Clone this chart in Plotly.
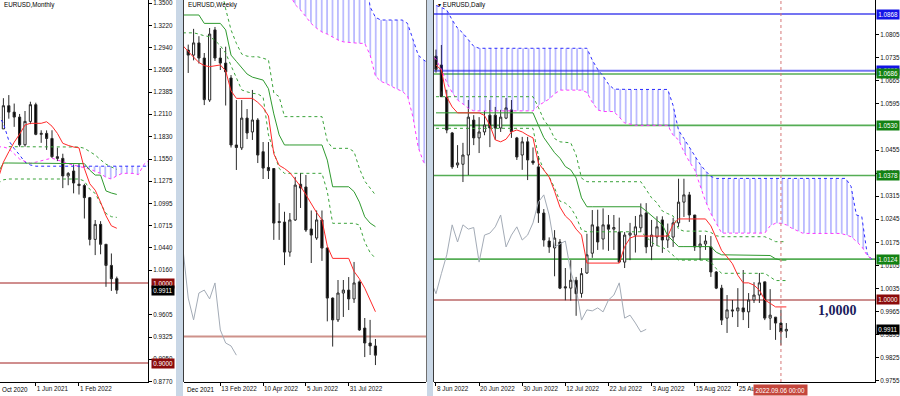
import plotly.graph_objects as go
from datetime import datetime, timedelta

# ======================= DATA =======================
# ---- Monthly EURUSD ----
m_dates = ["2020-10-01", "2020-11-01", "2020-12-01", "2021-01-01", "2021-02-01", "2021-03-01",
           "2021-04-01", "2021-05-01", "2021-06-01", "2021-07-01", "2021-08-01", "2021-09-01",
           "2021-10-01", "2021-11-01", "2021-12-01", "2022-01-01", "2022-02-01", "2022-03-01",
           "2022-04-01", "2022-05-01", "2022-06-01", "2022-07-01", "2022-08-01", "2022-09-01"]
m_open = [1.1720, 1.1646, 1.1926, 1.2216, 1.2136, 1.2074, 1.1728, 1.2020, 1.2229, 1.1858, 1.1870, 1.1807,
          1.1579, 1.1558, 1.1338, 1.1400, 1.1235, 1.1218, 1.1067, 1.0545, 1.0733, 1.0484, 1.0220, 1.0054]
m_high = [1.1881, 1.2004, 1.2310, 1.2349, 1.2243, 1.2113, 1.2150, 1.2266, 1.2254, 1.1909, 1.1908, 1.1909,
          1.1692, 1.1616, 1.1386, 1.1482, 1.1495, 1.1240, 1.1076, 1.0787, 1.0773, 1.0486, 1.0369, 1.0080]
m_low = [1.1612, 1.1603, 1.1925, 1.2054, 1.1952, 1.1704, 1.1704, 1.1986, 1.1847, 1.1752, 1.1664, 1.1563,
         1.1524, 1.1186, 1.1222, 1.1121, 1.1106, 1.0806, 1.0470, 1.0349, 1.0359, 0.9952, 0.9901, 0.9864]
m_close = [1.1646, 1.1926, 1.2216, 1.2136, 1.2074, 1.1728, 1.2020, 1.2229, 1.1858, 1.1870, 1.1807, 1.1579,
           1.1558, 1.1338, 1.1370, 1.1250, 1.1218, 1.1067, 1.0545, 1.0733, 1.0484, 1.0220, 1.0054, 0.9911]
m_tenkan = [None, 1.1300, 1.1510, 1.1640, 1.1760, 1.1860, 1.1975, 1.1996, 1.1996, 1.1996, 1.2016, 1.1960,
            1.1870, 1.1746, 1.1720, 1.1700, 1.1690, 1.1430, 1.1240, 1.1160, 1.1010, 1.0840, 1.0715, 1.0684]
m_kijun = [None, 1.1380, 1.1500, 1.1500, 1.1500, 1.1500, 1.1500, 1.1500, 1.1500, 1.1500, 1.1500, 1.1500,
           1.1500, 1.1500, 1.1500, 1.1500, 1.1500, 1.1492, 1.1410, 1.1349, 1.1349, 1.1151, 1.1125, 1.1107]
m_dot_up = [None, None, None, 1.1704, 1.1704, 1.1704, 1.1704, 1.1704, 1.1704, 1.1704, 1.1704, 1.1704,
            1.1704, 1.1704, 1.1704, 1.1704, 1.1700, 1.1684, 1.1641, 1.1600, 1.1540, 1.1485, 1.1450, 1.1420]
m_dot_dn = [None, 1.1246, 1.1290, 1.1300, 1.1300, 1.1300, 1.1300, 1.1300, 1.1300, 1.1300, 1.1300, 1.1300,
            1.1300, 1.1300, 1.1300, 1.1300, 1.1300, 1.1275, 1.1170, 1.1120, 1.1000, 1.0870, 1.0829, 1.0820]
m_cloud_start = 1  # first bar index of the cloud series (runs 26 bars past the last bar)
m_span_b = [1.2100, 1.1996, 1.1780, 1.1680, 1.1600, 1.1510, 1.1475, 1.1460, 1.1460, 1.1460,
            1.1460, 1.1460, 1.1460, 1.1460, 1.1460, 1.1460, 1.1460, 1.1460, 1.1460, 1.1460,
            1.1460, 1.1460, 1.1460, 1.1460, 1.1460, 1.1460, 1.1460, 1.1460, 1.1460]
m_span_a = [1.1704, 1.1700, 1.1680, 1.1620, 1.1550, 1.1520, 1.1496, 1.1510, 1.1530, 1.1545,
            1.1560, 1.1540, 1.1515, 1.1490, 1.1475, 1.1460, 1.1445, 1.1425, 1.1395, 1.1370,
            1.1320, 1.1300, 1.1340, 1.1370, 1.1371, 1.1370, 1.1355, 1.1480, 1.1540]
m_levels = [1.0000, 0.9000]
m_yticks = [1.3500, 1.3220, 1.2940, 1.2665, 1.2385, 1.2110, 1.1830, 1.1550, 1.1275, 1.0995,
            1.0715, 1.0440, 1.0160, 0.9605, 0.9325, 0.9050, 0.8770]

# ---- Weekly EURUSD ----
w_dates = ["2022-01-02", "2022-01-09", "2022-01-16", "2022-01-23", "2022-01-30", "2022-02-06",
           "2022-02-13", "2022-02-20", "2022-02-27", "2022-03-06", "2022-03-13", "2022-03-20",
           "2022-03-27", "2022-04-03", "2022-04-10", "2022-04-17", "2022-04-24", "2022-05-01",
           "2022-05-08", "2022-05-15", "2022-05-22", "2022-05-29", "2022-06-05", "2022-06-12",
           "2022-06-19", "2022-06-26", "2022-07-03", "2022-07-10", "2022-07-17", "2022-07-24",
           "2022-07-31", "2022-08-07", "2022-08-14", "2022-08-21", "2022-08-28", "2022-09-04"]
w_open = [1.1364, 1.1340, 1.1398, 1.1326, 1.1126, 1.1460, 1.1326, 1.1302, 1.1231, 1.0912, 1.0898, 1.1040,
          1.0974, 1.1031, 1.0880, 1.0805, 1.0800, 1.0548, 1.0545, 1.0402, 1.0555, 1.0725, 1.0712, 1.0512,
          1.0469, 1.0555, 1.0421, 1.0183, 1.0079, 1.0207, 1.0221, 1.0179, 1.0260, 1.0040, 0.9969, 0.9955]
w_high = [1.1390, 1.1465, 1.1430, 1.1350, 1.1469, 1.1474, 1.1374, 1.1380, 1.1245, 1.1126, 1.1126, 1.1083,
          1.1174, 1.1040, 1.0926, 1.0926, 1.0802, 1.0635, 1.0594, 1.0588, 1.0760, 1.0779, 1.0769, 1.0600,
          1.0600, 1.0600, 1.0426, 1.0186, 1.0269, 1.0269, 1.0283, 1.0355, 1.0267, 1.0088, 1.0079, 0.9988]
w_low = [1.1255, 1.1315, 1.1300, 1.1102, 1.1117, 1.1312, 1.1269, 1.1100, 1.0900, 1.0793, 1.0888, 1.0940,
         1.0936, 1.0826, 1.0750, 1.0750, 1.0460, 1.0460, 1.0340, 1.0380, 1.0550, 1.0612, 1.0498, 1.0350,
         1.0460, 1.0360, 1.0072, 0.9952, 1.0069, 1.0093, 1.0126, 1.0160, 1.0027, 0.9902, 0.9912, 0.9864]
w_close = [1.1340, 1.1398, 1.1326, 1.1128, 1.1440, 1.1326, 1.1302, 1.1260, 1.0912, 1.0900, 1.1040, 1.0969,
           1.1031, 1.0864, 1.0802, 1.0790, 1.0540, 1.0543, 1.0402, 1.0555, 1.0721, 1.0707, 1.0507, 1.0483,
           1.0555, 1.0421, 1.0183, 1.0079, 1.0207, 1.0221, 1.0179, 1.0255, 1.0031, 0.9969, 0.9955, 0.9911]
w_line_start = -1  # lines start one bar before the first candle shown
w_tenkan = [1.1385, 1.1360, 1.1330, 1.1305, 1.1290, 1.1285, 1.1290, 1.1293, 1.1265, 1.1170, 1.1134, 1.1134,
            1.1134, 1.1134, 1.1115, 1.1090, 1.1050, 1.0870, 1.0815, 1.0800, 1.0780, 1.0750, 1.0715, 1.0675,
            1.0630, 1.0590, 1.0555, 1.0430, 1.0372, 1.0372, 1.0372, 1.0372, 1.0310, 1.0275, 1.0230, 1.0170,
            1.0118]
w_kijun = [1.1531, 1.1531, 1.1531, 1.1531, 1.1491, 1.1491, 1.1491, 1.1491, 1.1460, 1.1340, 1.1310, 1.1280,
           1.1250, 1.1235, 1.1228, 1.1221, 1.1180, 1.1060, 1.0960, 1.0912, 1.0912, 1.0912, 1.0912, 1.0912,
           1.0912, 1.0912, 1.0912, 1.0840, 1.0713, 1.0713, 1.0713, 1.0713, 1.0690, 1.0640, 1.0570, 1.0540,
           1.0523]
w_dot_up = [None, None, None, None, None, None, None, 1.1680, 1.1560, 1.1460, 1.1396, 1.1345,
            1.1335, 1.1332, 1.1332, 1.1325, 1.1317, 1.1160, 1.1142, 1.1047, 1.1047, 1.1047, 1.1047, 1.1047,
            1.1047, 1.1047, 1.1047, 1.0930, 1.0896, 1.0896, 1.0896, 1.0896, 1.0880, 1.0800, 1.0740, 1.0705,
            1.0674]
w_dot_dn = [1.1446, 1.1446, 1.1446, 1.1440, 1.1432, 1.1428, 1.1410, 1.1385, 1.1350, 1.1290, 1.1230, 1.1174,
            1.1165, 1.1158, 1.1155, 1.1140, 1.0960, 1.0880, 1.0800, 1.0777, 1.0777, 1.0777, 1.0777, 1.0777,
            1.0777, 1.0777, 1.0777, 1.0690, 1.0539, 1.0539, 1.0539, 1.0539, 1.0539, 1.0531, 1.0450, 1.0400,
            1.0372]
w_cloud_start = 18
w_span_a = [1.1680, 1.1630, 1.1580, 1.1555, 1.1525, 1.1490, 1.1468, 1.1450, 1.1440, 1.1425, 1.1412, 1.1403,
            1.1400, 1.1396, 1.1396, 1.1396, 1.1340, 1.1240, 1.1215, 1.1205, 1.1190, 1.1178, 1.1168, 1.1145,
            1.1047, 1.0900, 1.0830, 1.0800]
w_span_b = [1.1750, 1.1750, 1.1750, 1.1750, 1.1750, 1.1750, 1.1750, 1.1750, 1.1750, 1.1750, 1.1750, 1.1750,
            1.1750, 1.1750, 1.1750, 1.1750, 1.1570, 1.1520, 1.1507, 1.1507, 1.1507, 1.1507, 1.1507, 1.1491,
            1.1420, 1.1340, 1.1317, 1.1300]
w_levels = [1.0000]

# ---- Daily EURUSD ----
d_dates = ["2022-06-08", "2022-06-09", "2022-06-10", "2022-06-13", "2022-06-14", "2022-06-15", "2022-06-16",
           "2022-06-17", "2022-06-20", "2022-06-21", "2022-06-22", "2022-06-23", "2022-06-24", "2022-06-27",
           "2022-06-28", "2022-06-29", "2022-06-30", "2022-07-01", "2022-07-04", "2022-07-05", "2022-07-06",
           "2022-07-07", "2022-07-08", "2022-07-11", "2022-07-12", "2022-07-13", "2022-07-14", "2022-07-15",
           "2022-07-18", "2022-07-19", "2022-07-20", "2022-07-21", "2022-07-22", "2022-07-25", "2022-07-26",
           "2022-07-27", "2022-07-28", "2022-07-29", "2022-08-01", "2022-08-02", "2022-08-03", "2022-08-04",
           "2022-08-05", "2022-08-08", "2022-08-09", "2022-08-10", "2022-08-11", "2022-08-12", "2022-08-15",
           "2022-08-16", "2022-08-17", "2022-08-18", "2022-08-19", "2022-08-22", "2022-08-23", "2022-08-24",
           "2022-08-25", "2022-08-26", "2022-08-29", "2022-08-30", "2022-08-31", "2022-09-01", "2022-09-02",
           "2022-09-05", "2022-09-06", "2022-09-07"]
d_open = [1.0740, 1.0713, 1.0616, 1.0507, 1.0410, 1.0412, 1.0440, 1.0546, 1.0492, 1.0510,
          1.0561, 1.0561, 1.0522, 1.0552, 1.0577, 1.0492, 1.0440, 1.0480, 1.0422, 1.0404,
          1.0264, 1.0179, 1.0158, 1.0176, 1.0040, 1.0036, 1.0060, 1.0020, 1.0082, 1.0142,
          1.0222, 1.0185, 1.0228, 1.0215, 1.0206, 1.0115, 1.0197, 1.0197, 1.0219, 1.0264,
          1.0163, 1.0191, 1.0243, 1.0182, 1.0191, 1.0234, 1.0297, 1.0319, 1.0258, 1.0161,
          1.0170, 1.0161, 1.0085, 1.0036, 0.9945, 0.9970, 0.9967, 0.9976, 0.9964, 1.0000,
          1.0015, 1.0055, 0.9945, 0.9948, 0.9930, 0.9906]
d_high = [1.0760, 1.0774, 1.0638, 1.0510, 1.0470, 1.0477, 1.0607, 1.0561, 1.0555, 1.0574,
          1.0607, 1.0586, 1.0577, 1.0613, 1.0607, 1.0495, 1.0495, 1.0495, 1.0463, 1.0437,
          1.0276, 1.0190, 1.0212, 1.0185, 1.0097, 1.0121, 1.0070, 1.0097, 1.0201, 1.0273,
          1.0274, 1.0278, 1.0258, 1.0258, 1.0250, 1.0206, 1.0234, 1.0255, 1.0293, 1.0294,
          1.0243, 1.0254, 1.0254, 1.0232, 1.0249, 1.0368, 1.0368, 1.0328, 1.0258, 1.0197,
          1.0197, 1.0194, 1.0088, 1.0046, 1.0015, 1.0000, 1.0036, 1.0091, 1.0021, 1.0054,
          1.0082, 1.0055, 1.0033, 0.9948, 0.9970, 0.9930]
d_low = [1.0690, 1.0633, 1.0506, 1.0398, 1.0401, 1.0358, 1.0379, 1.0470, 1.0446, 1.0500,
         1.0464, 1.0486, 1.0510, 1.0549, 1.0492, 1.0425, 1.0395, 1.0364, 1.0410, 1.0234,
         1.0162, 1.0143, 1.0072, 1.0033, 0.9999, 0.9998, 0.9952, 1.0007, 1.0079, 1.0128,
         1.0152, 1.0153, 1.0149, 1.0152, 1.0112, 1.0097, 1.0121, 1.0144, 1.0206, 1.0142,
         1.0121, 1.0164, 1.0143, 1.0158, 1.0161, 1.0222, 1.0252, 1.0237, 1.0149, 1.0121,
         1.0152, 1.0070, 1.0033, 0.9924, 0.9900, 0.9948, 0.9918, 0.9939, 0.9915, 0.9991,
         0.9991, 0.9939, 0.9909, 0.9879, 0.9863, 0.9885]
d_close = [1.0700, 1.0617, 1.0516, 1.0404, 1.0416, 1.0440, 1.0555, 1.0492, 1.0510, 1.0531,
           1.0522, 1.0522, 1.0555, 1.0583, 1.0511, 1.0434, 1.0480, 1.0425, 1.0416, 1.0264,
           1.0182, 1.0161, 1.0188, 1.0036, 1.0037, 1.0060, 1.0019, 1.0080, 1.0137, 1.0228,
           1.0176, 1.0228, 1.0215, 1.0220, 1.0115, 1.0197, 1.0203, 1.0222, 1.0258, 1.0161,
           1.0197, 1.0222, 1.0182, 1.0197, 1.0234, 1.0297, 1.0319, 1.0258, 1.0161, 1.0170,
           1.0179, 1.0085, 1.0036, 0.9939, 0.9970, 0.9967, 0.9976, 0.9964, 1.0000, 1.0015,
           1.0052, 0.9945, 0.9954, 0.9930, 0.9903, 0.9911]
d_tenkan = [1.0713, 1.0698, 1.0616, 1.0586, 1.0568, 1.0568, 1.0568, 1.0568, 1.0568, 1.0560,
            1.0530, 1.0486, 1.0480, 1.0488, 1.0510, 1.0516, 1.0510, 1.0500, 1.0492, 1.0416,
            1.0395, 1.0373, 1.0330, 1.0282, 1.0255, 1.0240, 1.0215, 1.0197, 1.0112, 1.0112,
            1.0112, 1.0112, 1.0112, 1.0112, 1.0112, 1.0162, 1.0188, 1.0194, 1.0194, 1.0194,
            1.0194, 1.0194, 1.0194, 1.0194, 1.0230, 1.0246, 1.0246, 1.0246, 1.0246, 1.0246,
            1.0246, 1.0225, 1.0190, 1.0150, 1.0131, 1.0110, 1.0075, 1.0052, 1.0052, 1.0045,
            1.0030, 1.0000, 0.9990, 0.9979, 0.9979, 0.9979]
d_kijun = [1.0568, 1.0568, 1.0568, 1.0568, 1.0568, 1.0568, 1.0568, 1.0568, 1.0568, 1.0568,
           1.0568, 1.0568, 1.0568, 1.0568, 1.0568, 1.0568, 1.0568, 1.0568, 1.0568, 1.0530,
           1.0493, 1.0470, 1.0447, 1.0430, 1.0405, 1.0395, 1.0370, 1.0310, 1.0283, 1.0283,
           1.0283, 1.0283, 1.0283, 1.0283, 1.0283, 1.0283, 1.0283, 1.0283, 1.0283, 1.0270,
           1.0255, 1.0240, 1.0228, 1.0195, 1.0178, 1.0162, 1.0162, 1.0162, 1.0162, 1.0162,
           1.0162, 1.0162, 1.0145, 1.0137, 1.0137, 1.0137, 1.0137, 1.0137, 1.0137, 1.0137,
           1.0137, 1.0137, 1.0135, 1.0125, 1.0121, 1.0121]
d_dot_up = [1.0617, 1.0617, 1.0617, 1.0617, 1.0617, 1.0617, 1.0617, 1.0617, 1.0617, 1.0617,
            1.0617, 1.0617, 1.0617, 1.0617, 1.0617, 1.0617, 1.0617, 1.0617, 1.0617, 1.0585,
            1.0547, 1.0525, 1.0490, 1.0480, 1.0478, 1.0477, 1.0440, 1.0370, 1.0359, 1.0359,
            1.0359, 1.0359, 1.0359, 1.0359, 1.0359, 1.0359, 1.0359, 1.0359, 1.0359, 1.0335,
            1.0310, 1.0295, 1.0270, 1.0262, 1.0255, 1.0215, 1.0209, 1.0209, 1.0209, 1.0209,
            1.0209, 1.0205, 1.0195, 1.0192, 1.0192, 1.0192, 1.0192, 1.0192, 1.0192, 1.0192,
            1.0192, 1.0192, 1.0185, 1.0177, 1.0177, 1.0177]
d_dot_dn = [1.0521, 1.0521, 1.0521, 1.0521, 1.0521, 1.0521, 1.0521, 1.0521, 1.0521, 1.0521,
            1.0521, 1.0521, 1.0521, 1.0521, 1.0521, 1.0521, 1.0521, 1.0521, 1.0521, 1.0435,
            1.0395, 1.0374, 1.0340, 1.0300, 1.0294, 1.0280, 1.0253, 1.0212, 1.0207, 1.0207,
            1.0207, 1.0207, 1.0207, 1.0207, 1.0207, 1.0207, 1.0207, 1.0207, 1.0207, 1.0192,
            1.0175, 1.0165, 1.0160, 1.0150, 1.0135, 1.0121, 1.0121, 1.0121, 1.0121, 1.0121,
            1.0121, 1.0115, 1.0095, 1.0081, 1.0081, 1.0081, 1.0081, 1.0081, 1.0081, 1.0081,
            1.0081, 1.0081, 1.0070, 1.0059, 1.0059, 1.0059]
d_cloud_start = -1
d_span_b = [1.0900, 1.0895, 1.0888, 1.0880, 1.0850, 1.0825, 1.0810, 1.0790, 1.0770,
            1.0764, 1.0764, 1.0764, 1.0764, 1.0764, 1.0764, 1.0764, 1.0764, 1.0764, 1.0764,
            1.0764, 1.0764, 1.0764, 1.0764, 1.0764, 1.0764, 1.0764, 1.0764, 1.0764, 1.0764,
            1.0764, 1.0728, 1.0700, 1.0680, 1.0655, 1.0640, 1.0639, 1.0639, 1.0639, 1.0639,
            1.0639, 1.0639, 1.0639, 1.0639, 1.0639, 1.0639, 1.0590, 1.0515, 1.0490, 1.0465,
            1.0440, 1.0412, 1.0392, 1.0375, 1.0369, 1.0369, 1.0369, 1.0369, 1.0369, 1.0369,
            1.0369, 1.0369, 1.0369, 1.0369, 1.0369, 1.0369, 1.0369, 1.0369, 1.0369, 1.0369,
            1.0369, 1.0369, 1.0369, 1.0369, 1.0369, 1.0369, 1.0369, 1.0369, 1.0369, 1.0345,
            1.0258, 1.0253, 1.0140, 1.0120]
d_span_a = [1.0750, 1.0730, 1.0700, 1.0660, 1.0630, 1.0607, 1.0595, 1.0582,
            1.0574, 1.0574, 1.0574, 1.0574, 1.0574, 1.0574, 1.0574, 1.0574, 1.0574, 1.0574,
            1.0574, 1.0574, 1.0590, 1.0600, 1.0610, 1.0625, 1.0637, 1.0637, 1.0637, 1.0637,
            1.0637, 1.0630, 1.0600, 1.0577, 1.0572, 1.0572, 1.0572, 1.0555, 1.0537, 1.0534,
            1.0530, 1.0530, 1.0530, 1.0530, 1.0530, 1.0530, 1.0530, 1.0500, 1.0486, 1.0450,
            1.0420, 1.0395, 1.0345, 1.0300, 1.0262, 1.0230, 1.0203, 1.0203, 1.0203, 1.0203,
            1.0203, 1.0203, 1.0203, 1.0203, 1.0203, 1.0225, 1.0233, 1.0233, 1.0228, 1.0218,
            1.0210, 1.0203, 1.0202, 1.0202, 1.0202, 1.0202, 1.0202, 1.0202, 1.0202, 1.0198,
            1.0192, 1.0178, 1.0162, 1.0135, 1.0122, 1.0118]
d_levels_blue = [1.0868, 1.0696]
d_levels_green = [1.0686, 1.0530, 1.0378, 1.0124]
d_level_red = 1.0000
d_yticks = [1.0805, 1.0735, 1.0665, 1.0595, 1.0455, 1.0385, 1.0315, 1.0245,
            1.0175, 1.0105, 1.0035, 0.9965, 0.9895, 0.9825, 0.9755]
d_cursor_bar = 64
d_note = "1,0000"

CHINKOU_SHIFT = 26

# ======================= STYLE =======================
W, H = 900, 396
FONT = "Liberation Sans"
FS = 6.3
C_TENKAN = "#ff2a2a"
C_KIJUN = "#2f9a2f"
C_DOT = "#3aa33a"
C_CHIKOU = "#a3abb6"
C_SPANB = "#2b2bff"
C_SPANA = "#ff38ff"
C_HATCH = "rgba(25,25,255,0.9)"
C_DARKRED = "#a01c1c"
C_WICK = "#2a2a2a"


def px(v):
    return v / W


def py(v):
    return 1 - v / H


PLOT_BOTTOM = 382
MON = (0, 148)
WEEK = (184, 426)
DAY = (434, 875)


def fmt_day(s):
    d = datetime.strptime(s, "%Y-%m-%d")
    return f"{d.day} {d.strftime('%b %Y')}"


fig = go.Figure()


def candles(o, h, l, c, xa, ya):
    fig.add_trace(go.Candlestick(
        x=list(range(len(o))), open=o, high=h, low=l, close=c, xaxis=xa, yaxis=ya,
        increasing=dict(line=dict(color=C_WICK, width=1), fillcolor="#ffffff"),
        decreasing=dict(line=dict(color=C_WICK, width=1), fillcolor="#000000"),
        whiskerwidth=0, showlegend=False, hoverinfo="skip"))


def line(x, y, xa, ya, color, dash="solid", width=1.0):
    fig.add_trace(go.Scatter(x=x, y=y, xaxis=xa, yaxis=ya, mode="lines",
                             line=dict(color=color, width=width, dash=dash),
                             showlegend=False, hoverinfo="skip", connectgaps=False))


def cloud(x, b, a, xa, ya):
    fig.add_trace(go.Scatter(x=x, y=b, xaxis=xa, yaxis=ya, mode="lines", line=dict(width=0),
                             showlegend=False, hoverinfo="skip"))
    fig.add_trace(go.Scatter(x=x, y=a, xaxis=xa, yaxis=ya, mode="lines", line=dict(width=0),
                             fill="tonexty", fillcolor="rgba(0,0,0,0)",
                             fillpattern=dict(shape="|", fgcolor=C_HATCH, bgcolor="rgba(0,0,0,0)",
                                              size=5.4, solidity=0.22),
                             showlegend=False, hoverinfo="skip"))


# ---------------- Monthly panel ----------------
mx_cloud = list(range(m_cloud_start, m_cloud_start + len(m_span_b)))
fill_from = mx_cloud.index(16)  # bearish part of the monthly cloud (hatched)
cloud(mx_cloud[fill_from:], m_span_b[fill_from:], m_span_a[fill_from:], "x", "y")
line(mx_cloud, m_span_b, "x", "y", C_SPANB, "dot")
line(mx_cloud, m_span_a, "x", "y", C_SPANA, "dot")
mx = list(range(len(m_dates)))
line(mx, m_dot_up, "x", "y", C_DOT, "dot")
line(mx, m_dot_dn, "x", "y", C_DOT, "dot")
line(mx, m_kijun, "x", "y", C_KIJUN)
line(mx, m_tenkan, "x", "y", C_TENKAN)
candles(m_open, m_high, m_low, m_close, "x", "y")

# ---------------- Weekly panel ----------------
wx_cloud = list(range(w_cloud_start, w_cloud_start + len(w_span_b)))
cloud(wx_cloud, w_span_b, w_span_a, "x2", "y2")
line(wx_cloud, w_span_b, "x2", "y2", C_SPANB, "dot")
line(wx_cloud, w_span_a, "x2", "y2", C_SPANA, "dot")
wx_line = list(range(w_line_start, w_line_start + len(w_tenkan)))
line(wx_line, w_dot_up, "x2", "y2", C_DOT, "dot")
line(wx_line, w_dot_dn, "x2", "y2", C_DOT, "dot")
line(wx_line, w_kijun, "x2", "y2", C_KIJUN)
line(wx_line, w_tenkan, "x2", "y2", C_TENKAN)
w_ch_x = [i - CHINKOU_SHIFT for i in range(len(w_close)) if i - CHINKOU_SHIFT >= -1]
w_ch_y = [w_close[i + CHINKOU_SHIFT] for i in w_ch_x]
line(w_ch_x, w_ch_y, "x2", "y2", C_CHIKOU)
candles(w_open, w_high, w_low, w_close, "x2", "y2")

# ---------------- Daily panel ----------------
dx_cloud = list(range(d_cloud_start, d_cloud_start + len(d_span_b)))
cloud(dx_cloud, d_span_b, d_span_a, "x3", "y3")
line(dx_cloud, d_span_b, "x3", "y3", C_SPANB, "dot")
line(dx_cloud, d_span_a, "x3", "y3", C_SPANA, "dot")
dx = list(range(len(d_dates)))
line(dx, d_dot_up, "x3", "y3", C_DOT, "dot")
line(dx, d_dot_dn, "x3", "y3", C_DOT, "dot")
line(dx, d_kijun, "x3", "y3", C_KIJUN)
line(dx, d_tenkan, "x3", "y3", C_TENKAN)
d_ch_x = [i - CHINKOU_SHIFT for i in range(len(d_close)) if i - CHINKOU_SHIFT >= -1]
d_ch_y = [d_close[i + CHINKOU_SHIFT] for i in d_ch_x]
line(d_ch_x, d_ch_y, "x3", "y3", C_CHIKOU)
candles(d_open, d_high, d_low, d_close, "x3", "y3")

# ======================= SHAPES =======================
shapes = []


def hline(y, xa_dom, ya, color, width):
    shapes.append(dict(type="line", xref=xa_dom, x0=0, x1=1, yref=ya, y0=y, y1=y,
                       line=dict(color=color, width=width), layer="below"))


for lv in m_levels:
    hline(lv, "x domain", "y", C_DARKRED, 1)
for lv in w_levels:
    hline(lv, "x2 domain", "y2", "rgba(190,110,100,0.75)", 2)
for lv in d_levels_blue:
    hline(lv, "x3 domain", "y3", "#7474f2", 2)
for lv in d_levels_green:
    hline(lv, "x3 domain", "y3", "#55ad55", 1.6)
hline(d_level_red, "x3 domain", "y3", "#9a1e1e", 1.2)

# crosshair vertical
shapes.append(dict(type="line", xref="x3", x0=d_cursor_bar, x1=d_cursor_bar, yref="y3 domain", y0=0, y1=1,
                   line=dict(color="rgb(215,120,120)", width=1, dash="dot"), layer="above"))

# window separators / borders
SEP = "#c9d7e6"
shapes += [
    dict(type="rect", xref="paper", yref="paper", x0=px(176), x1=px(183), y0=0, y1=1,
         fillcolor=SEP, line=dict(width=0), layer="above"),
    dict(type="line", xref="paper", yref="paper", x0=px(183.5), x1=px(183.5), y0=py(PLOT_BOTTOM), y1=1,
         line=dict(color="#3c3c3c", width=1), layer="above"),
    dict(type="rect", xref="paper", yref="paper", x0=px(427), x1=px(433), y0=0, y1=1,
         fillcolor=SEP, line=dict(width=0), layer="above"),
    dict(type="line", xref="paper", yref="paper", x0=px(426.5), x1=px(426.5), y0=py(PLOT_BOTTOM), y1=1,
         line=dict(color="#707070", width=1), layer="above"),
    dict(type="line", xref="paper", yref="paper", x0=px(433.5), x1=px(433.5), y0=py(PLOT_BOTTOM), y1=1,
         line=dict(color="#3c3c3c", width=1), layer="above"),
]

# ======================= ANNOTATIONS =======================
ann = []


def tag(text, y, yref, xpix, bg):
    ann.append(dict(text=text, x=px(xpix), xref="paper", y=y, yref=yref, xanchor="left", yanchor="middle",
                    showarrow=False, bgcolor=bg, borderpad=1.2,
                    font=dict(family=FONT, size=FS, color="#ffffff")))


# monthly tags
tag(f"{m_levels[1]:.4f}", m_levels[1], "y", 150.5, "#8b0b0b")
tag(f"{m_levels[0]:.4f}", m_levels[0], "y", 150.5, "#8b0b0b")
tag(f"{m_close[-1]:.4f}", m_close[-1], "y", 150.5, "#000000")
# daily tags
tag(f"{d_levels_blue[0]:.4f}", d_levels_blue[0], "y3", 876, "#1414e6")
tag(f"{d_levels_blue[1]:.4f}", d_levels_blue[1], "y3", 876, "#1414e6")
for lv in d_levels_green:
    tag(f"{lv:.4f}", lv, "y3", 876, "#138213")
tag(f"{d_level_red:.4f}", d_level_red, "y3", 876, "#8b0b0b")
tag(f"{d_close[-1]:.4f}", d_close[-1], "y3", 876, "#000000")

# titles
for xpix, txt in [(2, "EURUSD,Monthly"), (186, "EURUSD,Weekly"), (436, "▾ EURUSD,Daily")]:
    ann.append(dict(text=txt, x=px(xpix), xref="paper", y=py(5.5), yref="paper", xanchor="left",
                    yanchor="middle", showarrow=False, font=dict(family=FONT, size=FS, color="#000000")))

# partially hidden first date labels
first_m = datetime.strptime(m_dates[0], "%Y-%m-%d").strftime("%b %Y")
first_w = (datetime.strptime(w_dates[6], "%Y-%m-%d") - timedelta(weeks=8)).strftime("%b %Y")
for xpix, txt in [(0, first_m), (185, first_w)]:
    ann.append(dict(text=txt, x=px(xpix), xref="paper", y=py(389.5), yref="paper", xanchor="left",
                    yanchor="middle", showarrow=False, font=dict(family=FONT, size=FS, color="#000000")))

# crosshair time label
cur = datetime.strptime(d_dates[d_cursor_bar], "%Y-%m-%d").strftime("%Y.%m.%d 00:00")
ann.append(dict(text=cur, x=d_cursor_bar, xref="x3", y=py(389.5), yref="paper", xanchor="center",
                yanchor="middle", showarrow=False, bgcolor="#c4463c", borderpad=1.5,
                font=dict(family=FONT, size=FS, color="#ffffff")))

# big note
ann.append(dict(text=f"<b>{d_note}</b>", x=px(837), xref="paper", y=py(310), yref="paper",
                xanchor="center", yanchor="middle", showarrow=False,
                font=dict(family="Liberation Serif", size=14, color="#1b1b5c")))

# ======================= LAYOUT =======================
tickfont = dict(family=FONT, size=FS, color="#111111")
common_x = dict(showgrid=False, zeroline=False, showline=True, linecolor="#000000", linewidth=1,
                ticks="outside", ticklen=3, tickcolor="#000000", tickfont=tickfont, tickangle=0,
                ticklabelposition="outside right", rangeslider=dict(visible=False), fixedrange=True,
                automargin=False)
common_y = dict(showgrid=False, zeroline=False, side="right", showline=True, linecolor="#000000",
                linewidth=1, ticks="outside", ticklen=3, tickcolor="#000000", tickfont=tickfont,
                ticklabeloverflow="allow", fixedrange=True, automargin=False)

m_tick_idx = [8, 16]
w_tick_idx = [6, 14, 22, 30]
d_tick_idx = list(range(0, 57, 8))

ydom = [py(PLOT_BOTTOM), 1]
fig.update_layout(
    width=W, height=H, margin=dict(l=0, r=0, t=0, b=0, autoexpand=False),
    paper_bgcolor="#ffffff", plot_bgcolor="#ffffff",
    hovermode=False, showlegend=False, boxgap=0.42,
    xaxis=dict(common_x, domain=[px(MON[0]), px(MON[1])], range=[1.37, 28.78], anchor="y",
               tickvals=m_tick_idx, ticktext=[fmt_day(m_dates[i]) for i in m_tick_idx]),
    yaxis=dict(common_y, domain=ydom, range=[0.87625, 1.35375], anchor="x",
               tickvals=m_yticks, ticktext=[f"{v:.4f}" for v in m_yticks]),
    xaxis2=dict(common_x, domain=[px(WEEK[0]), px(WEEK[1])], range=[-0.79, 44.45], anchor="y2",
                tickvals=w_tick_idx, ticktext=[fmt_day(w_dates[i]) for i in w_tick_idx]),
    yaxis2=dict(domain=ydom, range=[0.97833, 1.16024], anchor="x2", showgrid=False, zeroline=False,
                showticklabels=False, ticks="", showline=False, fixedrange=True, automargin=False),
    xaxis3=dict(common_x, domain=[px(DAY[0]), px(DAY[1])], range=[-0.37, 81.45], anchor="y3",
                tickvals=d_tick_idx, ticktext=[fmt_day(d_dates[i]) for i in d_tick_idx]),
    yaxis3=dict(common_y, domain=ydom, range=[0.97511, 1.09105], anchor="x3",
                tickvals=d_yticks, ticktext=[f"{v:.4f}" for v in d_yticks]),
    shapes=shapes, annotations=ann,
)

fig.write_html("out.html")
